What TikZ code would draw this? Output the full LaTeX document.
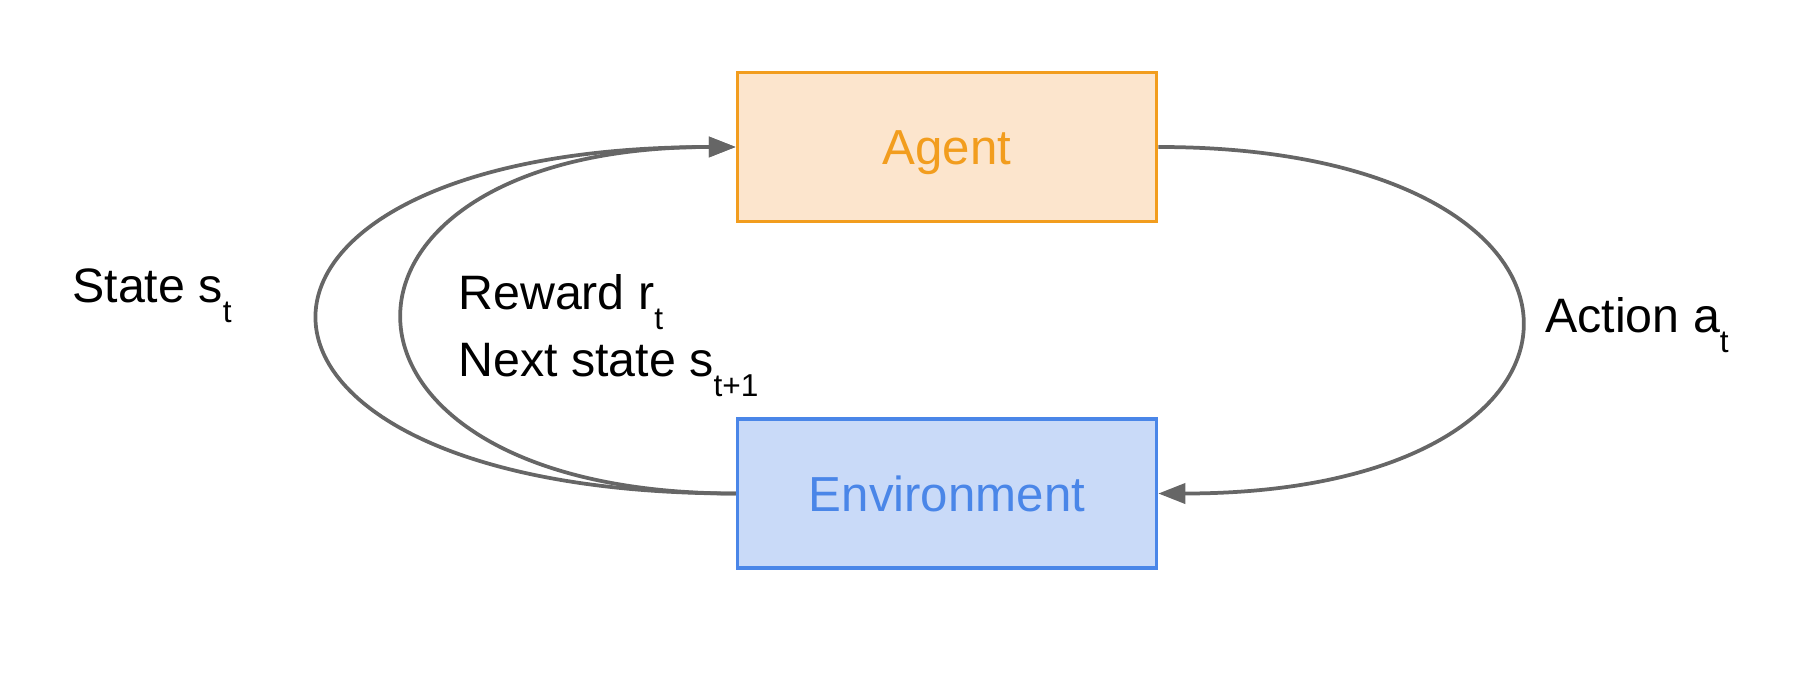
\documentclass[tikz,border=0pt]{standalone}
\usepackage{fontspec}
\setmainfont{Liberation Sans}
\usetikzlibrary{positioning, arrows.meta}

\definecolor{agentfill}{HTML}{FCE5CD}
\definecolor{agentline}{HTML}{F29D1E}
\definecolor{envfill}{HTML}{C9DAF8}
\definecolor{envline}{HTML}{4A86E8}
\definecolor{loopgray}{HTML}{666666}

\newcommand{\lowsub}[1]{\raisebox{-11pt}{\fontsize{18}{18}\selectfont #1}}

\begin{document}
\begin{tikzpicture}[
    box/.style={rectangle, draw, line width=2pt, minimum width=8.38cm, minimum height=2.98cm,
                text height=20pt, text depth=0pt, font=\fontsize{28}{34}\selectfont},
    agentbox/.style={box, fill=agentfill, draw=agentline, text=agentline},
    envbox/.style={box, fill=envfill, draw=envline, text=envline},
    lbl/.style={anchor=base west, inner sep=0pt, font=\fontsize{27.5}{33}\selectfont},
    arr/.style={-{Triangle[length=0.54cm, width=0.4cm]}, line width=0.075cm, draw=loopgray}
]
    \useasboundingbox (0,0) rectangle (36.12,13.54);
    \node[agentbox] (agent) at (18.94,10.60) {Agent};
    \node[envbox, below=3.88cm of agent] (env) {Environment};
    \node[lbl] (state) at (1.44,7.48) {State s\lowsub{t}};
    \node[lbl] (reward) at (9.16,7.34) {Reward r\lowsub{t}};
    \node[lbl] (next) at (9.16,6.00) {Next state s\lowsub{t+1}};
    \node[lbl] (action) at (30.90,6.88) {Action a\lowsub{t}};
    \draw[arr] (env.west) .. controls +(-11.12,0) and +(-11.12,0) .. (agent.west);
    \draw[arr] (env.west) .. controls +(-8.86,0) and +(-8.86,0) .. (agent.west);
    \draw[arr] (agent.east) .. controls +(9.66,0) and +(9.66,0) .. (env.east);
\end{tikzpicture}
\end{document}
